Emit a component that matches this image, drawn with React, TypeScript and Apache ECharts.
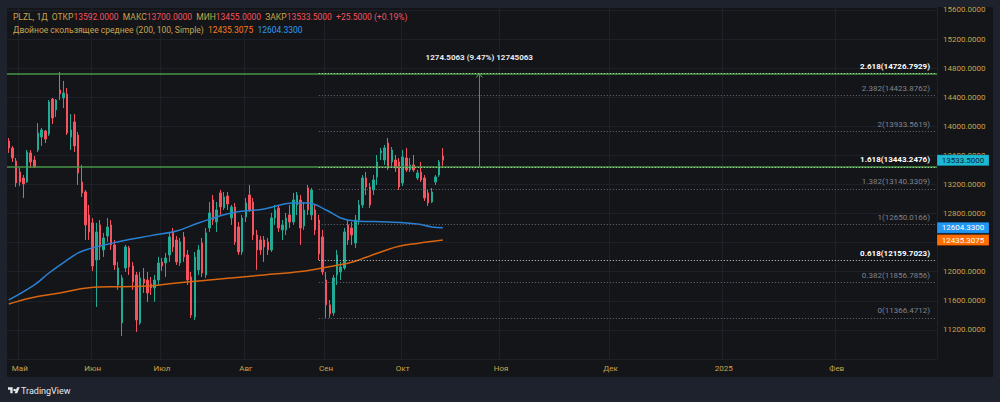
import React, { useEffect, useRef } from "react";
import * as echarts from "echarts";

// [open, close, low, high] — daily candles, PLZL
const candles: number[][] = [
  [13799, 13702, 13634, 13840], [13702, 13565, 13510, 13730], [13524, 13221, 13166, 13565], [13372, 13235, 13180, 13430],
  [13290, 13207, 13015, 13330], [13235, 13647, 13220, 13675], [13634, 13510, 13428, 13675], [13537, 13441, 13428, 13592],
  [13675, 13909, 13647, 14046], [13854, 13950, 13730, 13978], [13936, 13826, 13771, 13950], [13895, 14335, 13868, 14362],
  [14376, 14115, 14032, 14390], [14225, 14362, 14129, 14376], [14500, 14445, 14362, 14747], [14390, 14459, 14252, 14624],
  [14445, 13909, 13881, 14527], [13854, 13950, 13675, 14170], [14060, 13730, 13647, 14170], [13881, 13359, 13194, 13922],
  [13235, 13084, 13029, 13469], [13097, 12644, 12437, 13125], [12781, 12547, 12437, 12919], [12672, 12080, 12011, 12740],
  [12162, 12547, 11516, 12672], [12644, 12341, 12162, 12712], [12300, 12465, 12204, 12534], [12492, 12616, 12410, 12740],
  [12644, 12369, 12300, 12712], [12369, 12094, 12025, 12437], [11819, 12052, 11750, 12135], [11296, 11915, 11117, 11956],
  [12052, 12341, 11997, 12369], [12327, 12066, 11956, 12355], [12080, 11860, 11750, 12135], [11956, 11337, 11172, 11997],
  [11296, 11915, 11269, 11997], [11901, 11846, 11709, 12052], [11887, 11709, 11585, 11997], [11833, 11778, 11681, 11928],
  [11778, 11887, 11585, 11956], [11887, 12121, 11819, 12204], [12135, 12080, 12011, 12190], [12121, 12190, 11928, 12259],
  [12231, 12479, 12135, 12547], [12547, 12341, 12272, 12602], [12437, 12135, 12094, 12492], [12121, 12410, 12080, 12465],
  [12479, 12204, 12135, 12547], [12231, 11887, 11819, 12300], [11928, 11406, 11365, 11997], [11378, 12204, 11337, 12272],
  [12025, 12300, 11956, 12369], [12396, 11983, 11928, 12465], [11956, 12534, 11915, 12602], [12602, 12809, 12547, 12960],
  [12987, 12712, 12644, 13056], [12685, 12850, 12547, 12960], [13084, 12891, 12781, 13125], [12878, 13029, 12850, 13097],
  [13042, 12932, 12850, 13097], [12740, 12891, 12644, 12919], [12891, 12410, 12369, 12946], [12616, 12272, 12231, 12685],
  [12272, 12740, 12231, 12781], [12754, 12946, 12685, 13015], [13056, 12850, 12822, 13194], [12960, 12506, 12437, 13015],
  [12506, 12300, 12025, 12575], [12437, 12300, 12231, 12492], [12437, 12341, 12135, 12492], [12410, 12300, 12231, 12465],
  [12300, 12740, 12272, 12809], [12740, 12850, 12644, 12919], [12878, 12602, 12547, 12919], [12575, 12644, 12437, 12712],
  [12575, 12740, 12506, 12809], [12781, 12685, 12602, 12919], [12685, 12987, 12644, 13084], [12919, 13056, 12781, 13097],
  [12987, 12602, 12369, 13056], [12630, 12850, 12575, 12960], [13152, 12850, 12781, 13194], [12781, 13125, 12712, 13152],
  [12850, 12575, 12506, 12919], [12712, 12245, 12162, 12781], [12479, 11997, 11956, 12575], [11887, 11544, 11366.4712, 11997],
  [11544, 11420, 11366.4712, 11612], [11434, 11915, 11392, 11956], [11956, 12232, 11819, 12300], [11997, 12066, 11887, 12135],
  [12052, 12547, 12025, 12602], [12644, 12437, 12369, 12712], [12602, 12506, 12369, 12685], [12396, 12712, 12327, 12781],
  [12712, 12919, 12644, 12987], [12919, 13290, 12878, 13330], [13290, 13166, 13056, 13372], [13166, 12919, 12878, 13221],
  [13125, 13262, 13056, 13330], [13304, 13510, 13194, 13606], [13634, 13661, 13537, 13703], [13537, 13703, 13469, 13744],
  [13771, 13428, 13400, 13840], [13510, 13675, 13441, 13716], [13537, 13428, 13372, 13606], [13510, 13166, 13125, 13565],
  [13221, 13579, 13180, 13675], [13565, 13400, 13372, 13703], [13400, 13469, 13372, 13565], [13469, 13400, 13372, 13606],
  [13290, 13359, 13262, 13400], [13372, 13262, 13235, 13510], [13290, 13015, 12974, 13330], [13084, 12946, 12905, 13125],
  [12960, 13097, 12946, 13152], [13235, 13304, 13194, 13330], [13331, 13510, 13304, 13537], [13592, 13533.5, 13455, 13700],
];

// Moving averages (bar index -> value)
const sma100Idx = [0, 7, 11, 16, 19, 21, 25, 31, 39, 46, 52, 61, 70, 78, 82, 87, 91, 95, 104, 112, 116, 119];
const sma100Val = [11612, 11819, 11983, 12162, 12259, 12300, 12355, 12424, 12497, 12560, 12671, 12809, 12864, 12946, 12946, 12850, 12740, 12699, 12685, 12657, 12616, 12604.33];
const sma200Idx = [0, 6, 14, 22, 31, 39, 46, 61, 70, 80, 89, 94, 98, 103, 107, 112, 119];
const sma200Val = [11557, 11640, 11709, 11781, 11795, 11805, 11846, 11915, 11956, 12002, 12080, 12130, 12200, 12290, 12350, 12390, 12435.3075];

// Fibonacci levels
const fibRatios = ["2.618", "2.382", "2", "1.618", "1.382", "1", "0.618", "0.382", "0"];
const fibPrices = [14726.7929, 14423.8762, 13933.5619, 13443.2476, 13140.3309, 12650.0166, 12159.7023, 11856.7856, 11366.4712];
const fibStrong = ["2.618", "1.618", "0.618"];
const greenLevels = [14726.7929, 13443.2476];
const fibStartIdx = 85;
const measureIdx = 129;
const measureFrom = 13452.2866;
const measureTo = 14726.7929;
const measureText = "1274.5063 (9.47%) 12745063";

const holidays = ["2024-05-01", "2024-05-09", "2024-05-10", "2024-06-12"];
const firstDate = [2024, 3, 26];
const futureEnd = "2025-02-28";
const monthNames = ["Янв", "Фев", "Мар", "Апр", "Май", "Июн", "Июл", "Авг", "Сен", "Окт", "Ноя", "Дек"];

const lastPrice = 13533.5;
const sma100Last = 12604.33;
const sma200Last = 12435.3075;
const hiddenPriceTicks = [12400]; // covered by the indicator price tags

const GOLD = "#c9a44c";
const RED = "#f7525f";
const GREEN = "#22ab94";
const FONT = "Roboto";

function fmtDate(d: Date) {
  return d.toISOString().slice(0, 10);
}

function buildCategories(): string[] {
  const out: string[] = [];
  const d = new Date(Date.UTC(firstDate[0], firstDate[1], firstDate[2]));
  while (out.length < candles.length) {
    const wd = d.getUTCDay();
    const s = fmtDate(d);
    if (wd !== 0 && wd !== 6 && !holidays.includes(s)) out.push(s);
    d.setUTCDate(d.getUTCDate() + 1);
  }
  for (let k = 0; k < 400; k++) {
    const s = fmtDate(d);
    out.push(s);
    if (s === futureEnd) break;
    d.setUTCDate(d.getUTCDate() + 1);
  }
  return out;
}

const dates = buildCategories();
const monthStart = new Set<number>();
for (let i = 1; i < dates.length; i++) {
  if (dates[i].slice(0, 7) !== dates[i - 1].slice(0, 7)) monthStart.add(i);
}
const monthLabel = (v: string) => {
  const m = parseInt(v.slice(5, 7), 10);
  return m === 1 ? v.slice(0, 4) : monthNames[m - 1];
};

export default function App() {
  const ref = useRef<HTMLDivElement>(null);
  useEffect(() => {
    if (!ref.current) return;
    const chart = echarts.init(ref.current, null, { renderer: "svg" });
    try {
      echarts.graphic.registerShape(
        "tvlogo",
        echarts.graphic.extendPath("M14 22H7V11H0V4h14v18z M28 22h-8l7.5-18h8L28 22z M20 8a4 4 0 1 0 0.01 0z", {}) as any
      );
    } catch (e) {}

    const markData: any[] = [];
    greenLevels.forEach((p) => {
      markData.push({ yAxis: p, lineStyle: { color: "#4a9446", width: 1.5, type: "solid" } });
    });
    fibPrices.forEach((p, k) => {
      const strong = fibStrong.includes(fibRatios[k]);
      const isGreen = greenLevels.includes(p);
      markData.push([
        { coord: [dates[fibStartIdx], p], lineStyle: { color: isGreen ? "#b6e3ad" : strong ? "#c9ccd4" : "#666a75", width: 1, type: [1, 2] } },
        { coord: [dates[dates.length - 1], p] },
      ]);
    });
    markData.push([
      { coord: [dates[measureIdx], measureFrom], lineStyle: { color: "#4a9446", width: 1, type: "solid" } },
      { coord: [dates[measureIdx], measureTo] },
    ]);

    chart.setOption({
      animation: false,
      backgroundColor: "transparent",
      grid: { left: 7, top: 7, width: 930, height: 352, containLabel: false },
      xAxis: {
        type: "category",
        data: dates,
        boundaryGap: true,
        axisLine: { show: false },
        axisTick: { show: false },
        axisLabel: {
          interval: (i: number) => monthStart.has(i),
          formatter: (v: string) => monthLabel(v),
          color: GOLD,
          fontSize: 8,
          fontFamily: FONT,
          margin: 5,
        },
        splitLine: {
          show: true,
          interval: (i: number) => monthStart.has(i),
          lineStyle: { color: "#1d2029", width: 1 },
        },
      },
      yAxis: {
        type: "value",
        position: "right",
        min: 10800,
        max: 15641.25,
        interval: 400,
        axisLine: { show: false },
        axisTick: { show: false },
        splitLine: { lineStyle: { color: "#1d2029", width: 1 } },
        axisLabel: {
          color: GOLD,
          fontSize: 8,
          fontFamily: FONT,
          margin: 6,
          showMinLabel: false,
          showMaxLabel: false,
          formatter: (v: number) => (hiddenPriceTicks.includes(v) ? "" : v.toFixed(4)),
        },
      },
      series: [
        {
          type: "candlestick",
          data: candles,
          barWidth: 2,
          itemStyle: { color: GREEN, color0: RED, borderColor: GREEN, borderColor0: RED, borderWidth: 1 },
          markLine: {
            silent: true,
            symbol: ["none", "none"],
            label: { show: false },
            data: markData,
          },
        },
        {
          type: "line",
          data: sma200Idx.map((i, k) => [dates[i], sma200Val[k]]),
          showSymbol: false,
          smooth: 0.4,
          lineStyle: { color: "#d9650f", width: 1.5 },
          z: 3,
        },
        {
          type: "line",
          data: sma100Idx.map((i, k) => [dates[i], sma100Val[k]]),
          showSymbol: false,
          smooth: 0.4,
          lineStyle: { color: "#2a80d2", width: 1.5 },
          z: 3,
        },
      ],
    });

    const py = (v: number) => chart.convertToPixel({ yAxisIndex: 0 }, v) as number;
    const px = (i: number) => chart.convertToPixel({ xAxisIndex: 0 }, dates[i]) as number;

    const g: any[] = [];
    // legend
    g.push({
      type: "text",
      z: 100,
      style: {
        x: 13,
        y: 17,
        verticalAlign: "middle",
        text:
          "{g|PLZL, 1Д  ОТКР}{r|13592.0000}{g|  МАКС}{r|13700.0000}{g|  МИН}{r|13455.0000}{g|  ЗАКР}{r|13533.5000}{r|  +25.5000 (+0.19%)}",
        rich: {
          g: { fill: GOLD, fontSize: 8.5, fontFamily: FONT },
          r: { fill: RED, fontSize: 8.5, fontFamily: FONT },
        },
      },
    });
    g.push({
      type: "text",
      z: 100,
      style: {
        x: 13,
        y: 29.5,
        verticalAlign: "middle",
        text: "{g|Двойное скользящее среднее (200, 100, Simple)  }{o|12435.3075}{g|  }{b|12604.3300}",
        rich: {
          g: { fill: GOLD, fontSize: 8.5, fontFamily: FONT },
          o: { fill: "#ff7a1a", fontSize: 8.5, fontFamily: FONT },
          b: { fill: "#2d9cf0", fontSize: 8.5, fontFamily: FONT },
        },
      },
    });
    // fib labels
    fibPrices.forEach((p, k) => {
      const strong = fibStrong.includes(fibRatios[k]);
      g.push({
        type: "text",
        z: 100,
        style: {
          x: 930,
          y: py(p) - 7,
          align: "right",
          verticalAlign: "middle",
          text: `${fibRatios[k]}(${p.toFixed(4)})`,
          fill: strong ? "#ffffff" : "#80838d",
          fontSize: 8,
          fontWeight: strong ? "bold" : "normal",
          fontFamily: FONT,
        },
      });
    });
    // measure label + arrow
    const mx = px(measureIdx);
    const my = py(measureTo);
    g.push({
      type: "text",
      z: 100,
      style: {
        x: mx,
        y: my - 16,
        align: "center",
        verticalAlign: "middle",
        text: measureText,
        fill: "#e8e9ec",
        fontSize: 8,
        fontWeight: "bold",
        fontFamily: FONT,
      },
    });
    g.push({
      type: "polyline",
      z: 100,
      shape: { points: [[mx - 3, my + 4], [mx, my], [mx + 3, my + 4]] },
      style: { stroke: "#5aa852", lineWidth: 1, fill: "none" },
    });
    // price boxes
    const boxes = [
      { v: lastPrice, bg: "#1cb8d4", fg: "#0d2530" },
      { v: sma100Last, bg: "#2196f3", fg: "#ffffff" },
      { v: sma200Last, bg: "#ff6d00", fg: "#ffffff" },
    ];
    boxes.forEach((b) => {
      const cy = py(b.v);
      g.push({
        type: "rect",
        z: 100,
        shape: { x: 937, y: cy - 5.5, width: 52, height: 11 },
        style: { fill: b.bg, stroke: "rgba(0,0,0,0.35)", lineWidth: 0.5 },
      });
      g.push({
        type: "text",
        z: 101,
        style: {
          x: 963,
          y: cy,
          align: "center",
          verticalAlign: "middle",
          text: b.v.toFixed(4),
          fill: b.fg,
          fontSize: 8,
          fontFamily: FONT,
        },
      });
    });
    // TradingView logo
    g.push({
      type: "tvlogo",
      z: 100,
      x: 8,
      y: 386,
      scaleX: 0.33,
      scaleY: 0.33,
      style: { fill: "#e8e9ec" },
    });
    g.push({
      type: "text",
      z: 100,
      style: {
        x: 21,
        y: 390.5,
        verticalAlign: "middle",
        text: "TradingView",
        fill: "#e8e9ec",
        fontSize: 9,
        fontFamily: FONT,
      },
    });
    chart.setOption({ graphic: g });

    return () => chart.dispose();
  }, []);

  return (
    <div style={{ position: "fixed", left: 0, top: 0, width: 1000, height: 402, background: "#1e222d" }}>
      <div style={{ position: "absolute", left: 7, top: 7, width: 986, height: 370, background: "#131519" }} />
      <div ref={ref} style={{ position: "absolute", left: 0, top: 0, width: 1000, height: 402 }} />
    </div>
  );
}
